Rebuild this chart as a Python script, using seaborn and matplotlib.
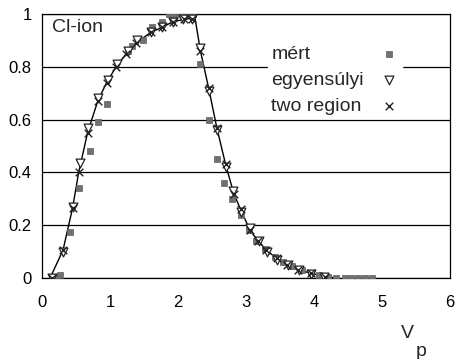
import matplotlib

matplotlib.use("Agg")
import matplotlib.pyplot as plt
import pandas as pd
import seaborn as sns

# measured points (mért)
V_MERT = [0.2, 0.27, 0.41, 0.55, 0.70, 0.83, 0.96, 1.26, 1.33, 1.48, 1.62, 1.77,
          1.87, 1.94, 2.01, 2.08, 2.15, 2.22, 2.33, 2.45, 2.57, 2.67, 2.79, 2.92,
          3.04, 3.15, 3.28, 3.42, 3.55, 3.68, 3.82, 3.95, 4.08, 4.20, 4.33, 4.45,
          4.55, 4.65, 4.75, 4.85]
C_MERT = [0.005, 0.01, 0.175, 0.34, 0.48, 0.59, 0.66, 0.86, 0.88, 0.90, 0.95, 0.97,
          1.0, 1.0, 1.0, 1.0, 1.0, 1.0, 0.81, 0.60, 0.45, 0.36, 0.30, 0.24,
          0.18, 0.14, 0.11, 0.08, 0.06, 0.045, 0.03, 0.02, 0.01, 0.005, 0.0, 0.0,
          0.0, 0.0, 0.0, 0.0]

# equilibrium model (egyensúlyi)
V_EQ = [0.15, 0.31, 0.46, 0.56, 0.68, 0.83, 0.97, 1.10, 1.26, 1.40, 1.60, 1.77,
        1.93, 2.08, 2.20, 2.33, 2.45, 2.57, 2.70, 2.81, 2.93, 3.06, 3.19, 3.31,
        3.46, 3.61, 3.78, 3.96, 4.15]
C_EQ = [0.0, 0.10, 0.27, 0.435, 0.57, 0.68, 0.75, 0.81, 0.86, 0.90, 0.93, 0.95,
        0.97, 0.98, 0.98, 0.87, 0.71, 0.56, 0.42, 0.33, 0.25, 0.19, 0.14, 0.10,
        0.07, 0.05, 0.03, 0.015, 0.005]

# two region model
V_TR = [0.15, 0.31, 0.45, 0.54, 0.67, 0.82, 0.95, 1.09, 1.24, 1.38, 1.60, 1.77,
        1.92, 2.09, 2.20, 2.33, 2.45, 2.57, 2.70, 2.82, 2.92, 3.06, 3.18, 3.30,
        3.45, 3.60, 3.77, 3.96, 4.16]
C_TR = [0.0, 0.106, 0.265, 0.40, 0.55, 0.67, 0.74, 0.80, 0.85, 0.89, 0.93, 0.95,
        0.97, 0.98, 0.98, 0.86, 0.72, 0.57, 0.43, 0.32, 0.26, 0.18, 0.14, 0.105,
        0.075, 0.05, 0.03, 0.018, 0.005]

# model curve
V_LINE = [0.12, 0.31, 0.45, 0.54, 0.67, 0.82, 0.95, 1.09, 1.24, 1.38, 1.60, 1.77,
          1.92, 2.09, 2.25, 2.33, 2.45, 2.57, 2.70, 2.82, 2.92, 3.06, 3.18, 3.30,
          3.45, 3.60, 3.77, 3.96, 4.16, 4.35]
C_LINE = [0.0, 0.106, 0.265, 0.40, 0.55, 0.67, 0.74, 0.80, 0.85, 0.89, 0.93, 0.95,
          0.97, 0.98, 0.985, 0.86, 0.72, 0.57, 0.43, 0.32, 0.26, 0.18, 0.14, 0.105,
          0.075, 0.05, 0.03, 0.018, 0.005, 0.0]

X_TICKS = [0, 1, 2, 3, 4, 5, 6]
Y_TICKS = [0, 0.2, 0.4, 0.6, 0.8, 1]
Y_LABELS = ["0", "0.2", "0.4", "0.6", "0.8", "1"]

sns.set_style("white")
plt.rcParams["font.family"] = ["Liberation Sans", "DejaVu Sans"]
plt.rcParams["font.size"] = 12

fig = plt.figure(figsize=(4.56, 3.59), dpi=100)
ax = fig.add_axes([0.092, 0.2256, 0.895, 0.7354])

line_df = pd.DataFrame({"V": V_LINE, "C": C_LINE})
sns.lineplot(data=line_df, x="V", y="C", sort=False, estimator=None,
             color="black", linewidth=1.0, ax=ax)

mert = pd.DataFrame({"V": V_MERT, "C": C_MERT})
eq = pd.DataFrame({"V": V_EQ, "C": C_EQ})
tr = pd.DataFrame({"V": V_TR, "C": C_TR})
sns.scatterplot(data=mert, x="V", y="C", marker="s", s=20, color="#707070",
                edgecolor="#606060", linewidth=0.5, label="mért", ax=ax, zorder=3)
sns.scatterplot(data=eq, x="V", y="C", marker="v", s=40, facecolor="white",
                edgecolor="#222222", linewidth=0.9, label="egyensúlyi", ax=ax, zorder=4)
sns.scatterplot(data=tr, x="V", y="C", marker="x", s=30, color="#222222",
                linewidth=1.0, label="two region", ax=ax, zorder=5)

ax.set_xlim(0, 6)
ax.set_ylim(0, 1)
ax.set_xticks(X_TICKS)
ax.set_yticks(Y_TICKS)
ax.set_yticklabels(Y_LABELS)
ax.set_xlabel("")
ax.set_ylabel("")
for y in Y_TICKS:
    ax.axhline(y, color="black", linewidth=0.9, zorder=1)
for side in ["left", "bottom", "right", "top"]:
    ax.spines[side].set_color("black")
    ax.spines[side].set_linewidth(0.9)
ax.tick_params(axis="both", direction="inout", length=5, width=0.9,
               labelsize=12, colors="black")
ax.tick_params(axis="x", pad=10)
ax.tick_params(axis="y", pad=5)

ax.text(0.024, 0.947, "Cl-ion", transform=ax.transAxes, ha="left", va="center",
        fontsize=14)

leg = ax.legend(loc="upper left", bbox_to_anchor=(0.555, 0.893), frameon=True,
                markerfirst=False, handlelength=1.0, handletextpad=0.8,
                labelspacing=0.45, borderpad=0.15, borderaxespad=0, fontsize=14)
leg.get_frame().set_edgecolor("white")
leg.get_frame().set_facecolor("white")
leg.get_frame().set_alpha(1)

# left-align legend texts while keeping markers in one column
fig.canvas.draw()
renderer = fig.canvas.get_renderer()
rows = leg._legend_handle_box.get_children()[0].get_children()
widths = [row.get_children()[0].get_bbox(renderer).width for row in rows]
maxw = max(widths)
for row, w in zip(rows, widths):
    row.sep = row.sep + (maxw - w) * 72 / fig.dpi

fig.text(0.893, 0.072, "V", ha="center", va="center", fontsize=14)
fig.text(0.923, 0.02, "p", ha="center", va="center", fontsize=14)

fig.savefig("out.png", dpi=100)
